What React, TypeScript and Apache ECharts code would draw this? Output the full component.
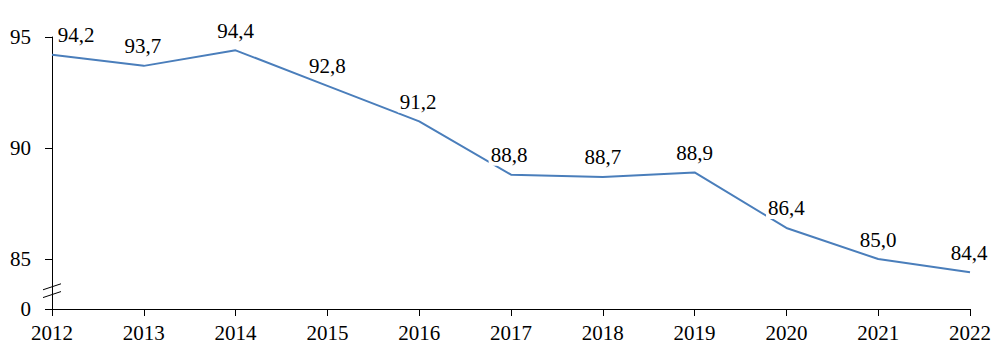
import React, { useEffect, useRef } from "react";
import * as echarts from "echarts";

const years = ["2012", "2013", "2014", "2015", "2016", "2017", "2018", "2019", "2020", "2021", "2022"];
const values = [94.2, 93.7, 94.4, 92.8, 91.2, 88.8, 88.7, 88.9, 86.4, 85.0, 84.4];
const yTickValues = [82.75, 85, 90, 95];
const labelOffsets: number[][] = [[24, 0], [-1, 0], [0, 0], [0, 0], [-1, 0], [-2, 0], [0, 0], [0, 0], [0, 0], [0, 0], [-1, 0]];

const FONT = "'Liberation Serif', serif";

export default function App() {
  const ref = useRef<HTMLDivElement>(null);
  useEffect(() => {
    if (!ref.current) return;
    const chart = echarts.init(ref.current, null, { renderer: "svg" });
    chart.setOption({
      animation: false,
      backgroundColor: "#ffffff",
      textStyle: { fontFamily: FONT },
      grid: { left: 52, right: 29, top: 37, bottom: 49 },
      xAxis: {
        type: "category",
        data: years,
        boundaryGap: false,
        axisLine: { lineStyle: { color: "#000", width: 1 } },
        axisTick: { show: true, length: 7, lineStyle: { color: "#000" } },
        axisLabel: { color: "#000", fontFamily: FONT, fontSize: 21, margin: 13 },
        splitLine: { show: false },
      },
      yAxis: {
        type: "value",
        min: 82.75,
        max: 95,
        axisLine: { show: true, lineStyle: { color: "#000", width: 1 } },
        axisTick: { show: true, length: 7, customValues: yTickValues, lineStyle: { color: "#000" } },
        axisLabel: {
          customValues: yTickValues,
          color: "#000",
          fontFamily: FONT,
          fontSize: 21,
          margin: 21,
          formatter: (v: number) => (v < 84 ? "0" : String(Math.round(v))),
        },
        splitLine: { show: false },
      },
      series: [
        {
          type: "line",
          data: values,
          symbol: "circle",
          symbolSize: 2,
          showSymbol: true,
          itemStyle: { color: "rgba(0,0,0,0)", borderWidth: 0 },
          lineStyle: { color: "#4a7ebb", width: 2 },
          label: {
            show: true,
            position: "top",
            distance: 8,
            color: "#000",
            fontFamily: FONT,
            fontSize: 21,
            formatter: (p: any) => "{v|" + Number(p.value).toFixed(1).replace(".", ",") + "}",
            rich: {
              v: {
                fontFamily: FONT,
                fontSize: 21,
                color: "#000",
                backgroundColor: "#ffffff",
                padding: [0, 2],
              },
            },
          },
          labelLayout: (p: any) => ({
            dx: labelOffsets[p.dataIndex][0],
            dy: labelOffsets[p.dataIndex][1],
            hideOverlap: false,
          }),
          z: 3,
        },
      ],
    });
    const ax = chart.convertToPixel({ xAxisIndex: 0 }, years[0]) as number;
    const y1 = chart.convertToPixel({ yAxisIndex: 0 }, 83.4) as number;
    const y2 = chart.convertToPixel({ yAxisIndex: 0 }, 83.75) as number;
    chart.setOption({
      graphic: [
        { type: "line", shape: { x1: ax - 9, y1: y1 + 3, x2: ax + 9, y2: y1 - 3 }, style: { stroke: "#000", lineWidth: 1 }, z: 10 },
        { type: "line", shape: { x1: ax - 9, y1: y2 + 3, x2: ax + 9, y2: y2 - 3 }, style: { stroke: "#000", lineWidth: 1 }, z: 10 },
      ],
    });
    return () => chart.dispose();
  }, []);
  return <div ref={ref} style={{ position: "fixed", left: 0, top: 0, width: 999, height: 358 }} />;
}
